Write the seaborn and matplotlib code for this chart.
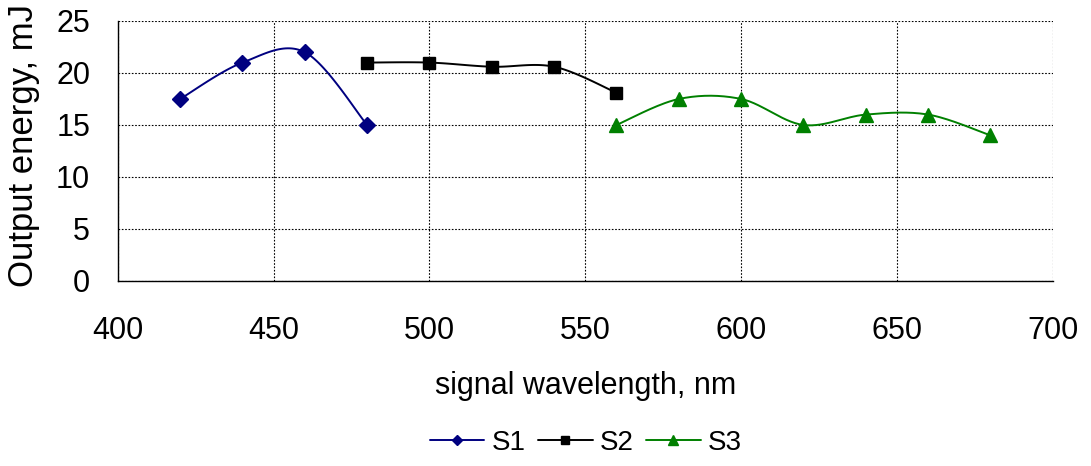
import numpy as np
import pandas as pd
import seaborn as sns
import matplotlib.pyplot as plt
from matplotlib.lines import Line2D

# data
s1_x = [420, 440, 460, 480]
s1_y = [17.5, 21.0, 22.0, 15.0]
s2_x = [480, 500, 520, 540, 560]
s2_y = [21.0, 21.0, 20.6, 20.6, 18.1]
s3_x = [560, 580, 600, 620, 640, 660, 680]
s3_y = [15.0, 17.5, 17.5, 15.0, 16.0, 16.0, 14.0]

x_ticks = [400, 450, 500, 550, 600, 650, 700]
y_ticks = [0, 5, 10, 15, 20, 25]


def smooth(xs, ys, n=30):
    # Excel style smoothed line: bezier with catmull-rom control points
    p = np.column_stack([xs, ys]).astype(float)
    ext = np.vstack([p[0], p, p[-1]])
    t = np.linspace(0, 1, n)[:, None]
    out = []
    for i in range(len(p) - 1):
        p0, p1, p2, p3 = ext[i], ext[i + 1], ext[i + 2], ext[i + 3]
        c1 = p1 + (p2 - p0) / 6
        c2 = p2 - (p3 - p1) / 6
        seg = ((1 - t) ** 3) * p1 + 3 * ((1 - t) ** 2) * t * c1 + 3 * (1 - t) * t ** 2 * c2 + t ** 3 * p2
        out.append(seg if i == 0 else seg[1:])
    out = np.vstack(out)
    return pd.DataFrame({'x': out[:, 0], 'y': out[:, 1]})


sns.set_style('white')
plt.rcParams['font.family'] = ['Liberation Sans', 'DejaVu Sans']
plt.rcParams['text.color'] = 'black'

fig = plt.figure(figsize=(10.91, 4.66), dpi=100)
ax = fig.add_axes([0.108, 0.397, 0.857, 0.558])

series = [
    ('S1', s1_x, s1_y, '#000080', 'D', 8),
    ('S2', s2_x, s2_y, '#000000', 's', 9),
    ('S3', s3_x, s3_y, '#008000', '^', 10),
]

handles = []
for name, xs, ys, col, mk, ms in series:
    curve = smooth(xs, ys)
    sns.lineplot(data=curve, x='x', y='y', sort=False, color=col, lw=1.4, ax=ax, zorder=3)
    pts = pd.DataFrame({'x': xs, 'y': ys})
    ax.plot(pts['x'], pts['y'], ls='none', marker=mk, ms=ms, color=col, zorder=4, clip_on=False)
    handles.append(Line2D([], [], color=col, lw=1.4, marker=mk, ms=ms * 0.7, label=name))

ax.set_xlim(400, 700)
ax.set_ylim(0, 25)
ax.set_xticks(x_ticks)
ax.set_yticks(y_ticks)
ax.grid(True, color='black', ls=(0, (1.5, 1.5)), lw=0.8)
for side in ['top', 'right']:
    ax.spines[side].set_visible(False)
for side in ['left', 'bottom']:
    ax.spines[side].set_color('black')
    ax.spines[side].set_linewidth(1.0)
ax.tick_params(axis='both', direction='out', length=8, width=1, colors='black', labelsize=22)
ax.tick_params(axis='x', pad=17.5)
ax.tick_params(axis='y', pad=12)
ax.set_xlabel('signal wavelength, nm', fontsize=22, labelpad=18, color='black')
# the original label runs off the top edge; keep it whole here
ax.set_ylabel('Output energy, mJ', fontsize=25, color='black')
ax.yaxis.set_label_coords(-0.083, 0.52)

fig.legend(handles=handles, loc='center', bbox_to_anchor=(0.537, 0.049), ncol=3, frameon=False,
           fontsize=20, handlelength=1.95, handletextpad=0.25, columnspacing=0.47)

fig.savefig('out.png', dpi=100)
